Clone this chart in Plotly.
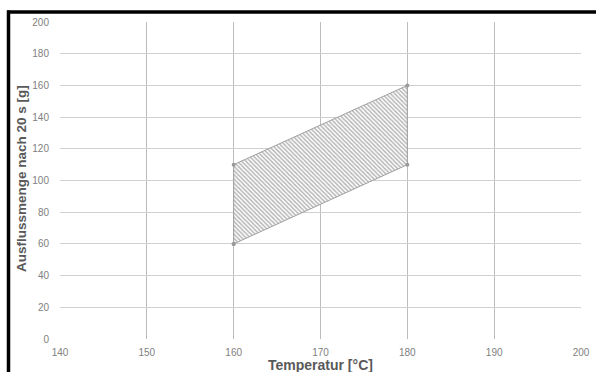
import plotly.graph_objects as go

temp = [160, 160, 180, 180, 160]
amount = [60, 110, 160, 110, 60]

x_ticks = [140, 150, 160, 170, 180, 190, 200]
y_ticks = [0, 20, 40, 60, 80, 100, 120, 140, 160, 180, 200]

fig = go.Figure()
fig.add_trace(go.Scatter(
    x=temp, y=amount, mode="lines+markers", fill="toself",
    fillcolor="rgba(255,255,255,0)",
    fillpattern=dict(shape="\\", fgcolor="#6e6e6e", bgcolor="white", size=3, solidity=0.5),
    line=dict(color="#a0a0a0", width=1),
    marker=dict(color="#9a9a9a", size=4),
    showlegend=False, hoverinfo="skip"))

W, H = 596, 372
L, R, T, B = 60, 15, 22, 33
pw, ph = W - L - R, H - T - B

def px_x(p):
    return (p - L) / pw

def px_y(p):
    return 1 - (p - T) / ph

fig.update_layout(
    width=W, height=H,
    margin=dict(l=L, r=R, t=T, b=B, autoexpand=False),
    paper_bgcolor="white", plot_bgcolor="white",
    font=dict(family="Liberation Sans, Arial", color="#595959", size=10),
    xaxis=dict(range=[140, 200], tickvals=x_ticks, showgrid=True, gridcolor="#bcbcbc",
               gridwidth=1, zeroline=False, showline=False, automargin=False,
               ticks="outside", ticklen=4, tickcolor="rgba(0,0,0,0)",
               tickfont=dict(size=10, color="#808080")),
    yaxis=dict(range=[0, 200], tickvals=y_ticks, showgrid=True, gridcolor="#d0d0d0",
               gridwidth=1, zeroline=False, showline=False, automargin=False,
               ticks="outside", ticklen=8, tickcolor="rgba(0,0,0,0)",
               tickfont=dict(size=10, color="#808080")),
    annotations=[
        dict(text="<b>Temperatur [°C]</b>", xref="paper", yref="paper",
             x=px_x(320), y=px_y(365), showarrow=False, xanchor="center", yanchor="middle",
             font=dict(size=14, color="#595959")),
        dict(text="<b>Ausflussmenge nach 20 s [g]</b>", xref="paper", yref="paper",
             x=px_x(21), y=px_y(179), showarrow=False, textangle=-90,
             xanchor="center", yanchor="middle",
             font=dict(size=13.5, color="#595959")),
    ],
    shapes=[
        dict(type="line", xref="paper", yref="paper", x0=px_x(8.5), x1=px_x(8.5),
             y0=px_y(372), y1=px_y(10.5), line=dict(color="black", width=3.5)),
        dict(type="line", xref="paper", yref="paper", x0=px_x(7), x1=px_x(596),
             y0=px_y(12), y1=px_y(12), line=dict(color="black", width=3.5)),
    ],
)

fig.write_html("out.html", config={"displayModeBar": False},
               post_script="document.body.style.margin='0';document.body.style.overflow='hidden';")
